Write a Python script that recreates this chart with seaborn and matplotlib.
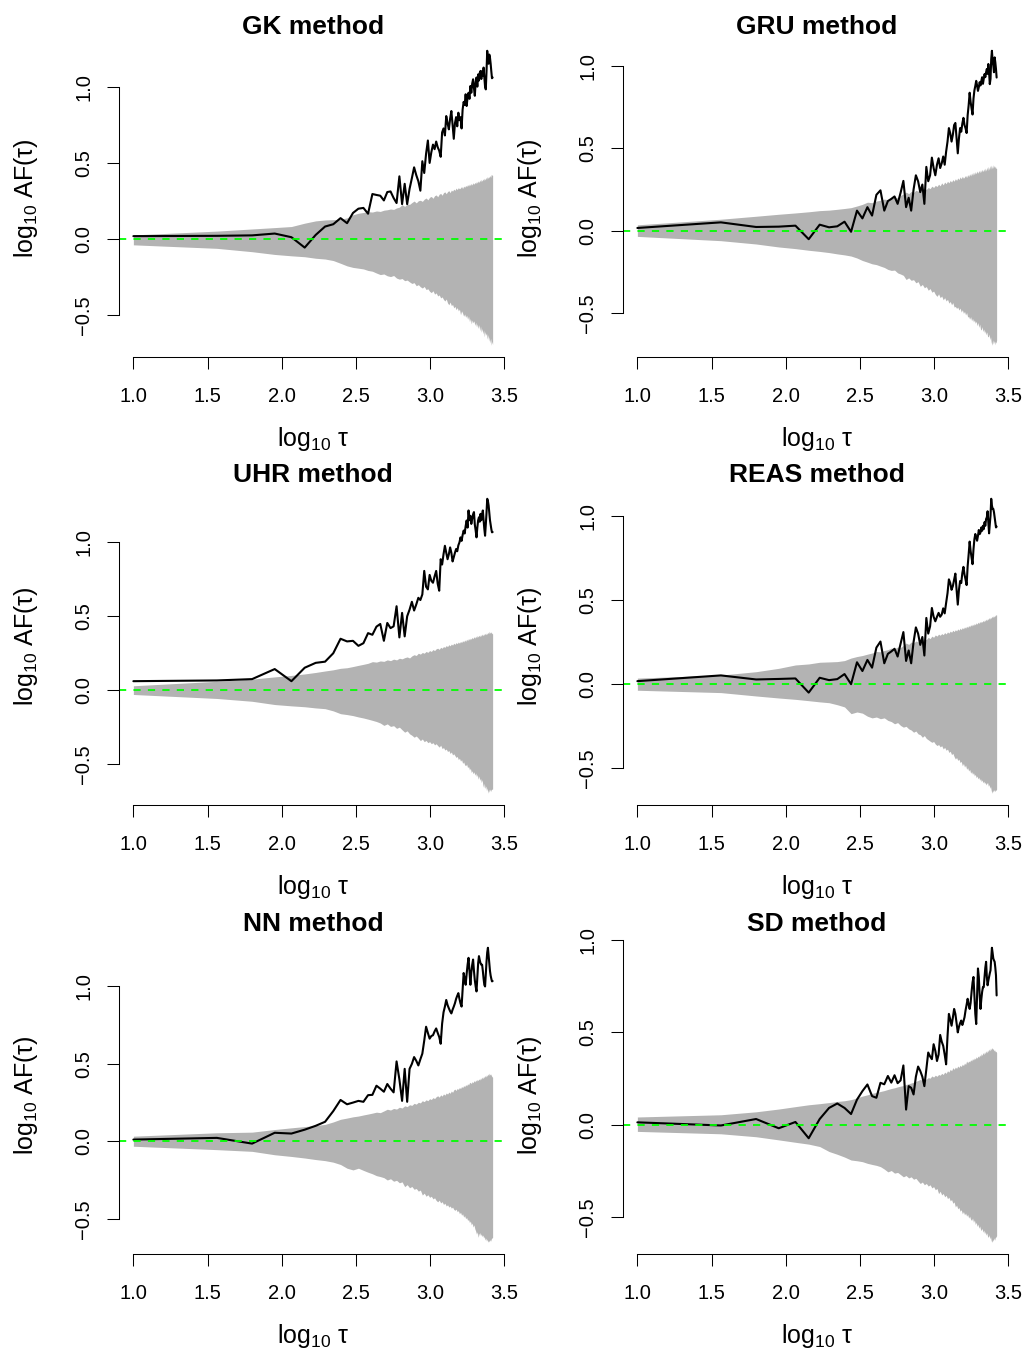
import numpy as np
import matplotlib
matplotlib.use("Agg")
import matplotlib.pyplot as plt
import seaborn as sns

# Lag grid (evenly spaced lags, shown on a log10 axis)
tau = np.linspace(10, 2640, 100)
log_tau = np.log10(tau)

methods = ["GK", "GRU", "UHR", "REAS", "NN", "SD"]

# log10 AF(tau) for each reconstruction method
gk_af = [
    0.020, 0.022, 0.025, 0.037, 0.013, -0.055, 0.028, 0.083, 0.098, 0.138,
    0.105, 0.172, 0.200, 0.205, 0.167, 0.296, 0.290, 0.285, 0.254, 0.309,
    0.313, 0.270, 0.237, 0.412, 0.230, 0.363, 0.230, 0.330, 0.400, 0.471,
    0.420, 0.380, 0.318, 0.511, 0.434, 0.560, 0.647, 0.500, 0.570, 0.620,
    0.590, 0.640, 0.603, 0.580, 0.540, 0.700, 0.726, 0.680, 0.807, 0.760,
    0.720, 0.790, 0.840, 0.750, 0.658, 0.760, 0.800, 0.740, 0.829, 0.780,
    0.800, 0.726, 0.850, 0.900, 0.880, 0.950, 0.873, 0.930, 0.960, 0.920,
    1.004, 0.960, 1.020, 1.048, 0.990, 0.940, 1.030, 1.060, 1.000, 1.080,
    1.040, 1.090, 1.103, 1.050, 1.100, 1.070, 1.125, 1.060, 1.000, 0.982,
    1.100, 1.235, 1.180, 1.150, 1.210, 1.190, 1.150, 1.100, 1.055, 1.060,
]
gru_af = [
    0.017, 0.051, 0.023, 0.025, 0.031, -0.051, 0.037, 0.021, 0.027, 0.055,
    -0.006, 0.122, 0.075, 0.143, 0.092, 0.218, 0.245, 0.122, 0.180, 0.193,
    0.208, 0.163, 0.230, 0.302, 0.143, 0.200, 0.122, 0.250, 0.336, 0.300,
    0.234, 0.280, 0.163, 0.387, 0.300, 0.336, 0.443, 0.380, 0.336, 0.400,
    0.439, 0.380, 0.408, 0.450, 0.400, 0.479, 0.540, 0.622, 0.590, 0.540,
    0.582, 0.640, 0.653, 0.560, 0.469, 0.560, 0.622, 0.600, 0.650, 0.684,
    0.640, 0.620, 0.592, 0.700, 0.760, 0.836, 0.780, 0.740, 0.704, 0.800,
    0.850, 0.877, 0.908, 0.880, 0.847, 0.870, 0.900, 0.880, 0.908, 0.930,
    0.890, 0.920, 0.949, 0.930, 0.960, 0.980, 0.950, 1.010, 0.960, 0.888,
    0.920, 1.040, 1.090, 1.030, 1.000, 0.960, 1.050, 1.020, 0.980, 0.928,
]
uhr_af = [
    0.061, 0.066, 0.075, 0.143, 0.061, 0.152, 0.185, 0.193, 0.250, 0.348,
    0.330, 0.334, 0.300, 0.318, 0.386, 0.375, 0.430, 0.448, 0.334, 0.455,
    0.420, 0.432, 0.568, 0.357, 0.523, 0.364, 0.500, 0.545, 0.598, 0.539,
    0.580, 0.625, 0.610, 0.648, 0.807, 0.700, 0.682, 0.780, 0.740, 0.727,
    0.770, 0.807, 0.720, 0.673, 0.886, 0.850, 0.920, 0.977, 0.930, 0.886,
    0.920, 0.966, 0.930, 0.871, 0.900, 0.930, 0.955, 0.940, 0.980, 1.000,
    1.034, 1.010, 1.050, 1.080, 1.060, 1.110, 1.148, 1.100, 1.216, 1.150,
    1.180, 1.125, 1.160, 1.190, 1.205, 1.120, 1.080, 1.034, 1.100, 1.150,
    1.170, 1.140, 1.193, 1.150, 1.190, 1.216, 1.150, 1.090, 1.045, 1.120,
    1.200, 1.295, 1.280, 1.250, 1.200, 1.150, 1.120, 1.090, 1.068, 1.070,
]
reas_af = [
    0.018, 0.052, 0.028, 0.031, 0.034, -0.050, 0.038, 0.024, 0.030, 0.060,
    0.000, 0.130, 0.078, 0.144, 0.098, 0.217, 0.253, 0.124, 0.180, 0.194,
    0.210, 0.164, 0.240, 0.309, 0.138, 0.200, 0.124, 0.250, 0.337, 0.300,
    0.233, 0.280, 0.170, 0.393, 0.300, 0.343, 0.452, 0.400, 0.373, 0.400,
    0.423, 0.400, 0.413, 0.450, 0.420, 0.482, 0.540, 0.622, 0.600, 0.560,
    0.582, 0.620, 0.656, 0.560, 0.472, 0.560, 0.612, 0.600, 0.660, 0.696,
    0.650, 0.620, 0.588, 0.700, 0.770, 0.846, 0.790, 0.750, 0.712, 0.800,
    0.860, 0.891, 0.870, 0.851, 0.880, 0.915, 0.890, 0.900, 0.930, 0.910,
    0.940, 0.920, 0.961, 0.940, 0.980, 0.990, 1.026, 0.960, 0.895, 0.950,
    1.000, 1.100, 1.060, 1.040, 1.040, 1.020, 0.990, 0.960, 0.930, 0.935,
]
nn_af = [
    0.011, 0.022, -0.015, 0.055, 0.050, 0.075, 0.100, 0.126, 0.195, 0.267,
    0.239, 0.250, 0.261, 0.255, 0.298, 0.300, 0.359, 0.340, 0.320, 0.370,
    0.340, 0.316, 0.516, 0.400, 0.261, 0.468, 0.255, 0.468, 0.500, 0.544,
    0.520, 0.490, 0.530, 0.566, 0.650, 0.740, 0.700, 0.663, 0.680, 0.685,
    0.710, 0.729, 0.700, 0.674, 0.630, 0.760, 0.833, 0.870, 0.913, 0.880,
    0.859, 0.840, 0.826, 0.850, 0.870, 0.892, 0.920, 0.940, 0.957, 0.920,
    0.890, 0.870, 0.980, 1.087, 1.050, 1.011, 1.080, 1.140, 1.185, 1.100,
    1.011, 1.090, 1.140, 1.174, 1.100, 1.040, 1.000, 0.968, 1.060, 1.150,
    1.196, 1.170, 1.150, 1.140, 1.141, 1.100, 1.050, 1.010, 1.000, 1.080,
    1.160, 1.220, 1.250, 1.200, 1.150, 1.100, 1.070, 1.050, 1.033, 1.035,
]
sd_af = [
    0.013, -0.004, 0.031, -0.019, 0.015, -0.073, 0.031, 0.091, 0.115, 0.091,
    0.058, 0.136, 0.182, 0.218, 0.155, 0.146, 0.227, 0.219, 0.264, 0.228,
    0.268, 0.225, 0.240, 0.321, 0.082, 0.209, 0.200, 0.164, 0.260, 0.315,
    0.291, 0.260, 0.209, 0.300, 0.391, 0.370, 0.355, 0.436, 0.400, 0.345,
    0.380, 0.486, 0.450, 0.427, 0.380, 0.327, 0.480, 0.600, 0.570, 0.536,
    0.580, 0.627, 0.600, 0.550, 0.500, 0.530, 0.550, 0.564, 0.540, 0.560,
    0.582, 0.620, 0.650, 0.682, 0.650, 0.627, 0.660, 0.720, 0.770, 0.800,
    0.700, 0.600, 0.545, 0.700, 0.846, 0.800, 0.700, 0.627, 0.680, 0.720,
    0.745, 0.745, 0.800, 0.850, 0.882, 0.800, 0.755, 0.780, 0.800, 0.820,
    0.836, 0.900, 0.958, 0.930, 0.900, 0.890, 0.882, 0.850, 0.809, 0.700,
]

# Upper / lower limits of the surrogate envelope for each method
gk_upper = [
    .028, .053, .067, .076, .083, .105, .120, .126, .128, .130,
    .140, .160, .170, .175, .180, .178, .185, .182, .190, .193,
    .198, .195, .205, .210, .226, .215, .230, .228, .240, .250,
    .238, .252, .255, .248, .262, .270, .258, .275, .280, .268,
    .285, .290, .278, .295, .300, .288, .305, .310, .298, .312,
    .318, .305, .322, .315, .328, .320, .335, .325, .338, .330,
    .336, .345, .332, .348, .340, .352, .345, .358, .348, .362,
    .352, .366, .355, .370, .360, .372, .365, .378, .368, .382,
    .372, .388, .376, .392, .380, .395, .385, .400, .388, .405,
    .392, .410, .398, .412, .402, .418, .405, .425, .420, .418,
]
gk_lower = [
    -.037, -.060, -.082, -.100, -.109, -.115, -.125, -.130, -.140, -.158,
    -.175, -.185, -.190, -.195, -.205, -.210, -.222, -.232, -.228, -.240,
    -.245, -.238, -.255, -.262, -.258, -.272, -.268, -.280, -.290, -.285,
    -.305, -.298, -.312, -.320, -.310, -.330, -.325, -.342, -.350, -.338,
    -.360, -.352, -.372, -.365, -.385, -.378, -.395, -.405, -.392, -.418,
    -.430, -.412, -.435, -.428, -.450, -.440, -.462, -.448, -.470, -.458,
    -.495, -.470, -.485, -.505, -.490, -.512, -.498, -.525, -.505, -.540,
    -.520, -.555, -.530, -.548, -.535, -.565, -.545, -.575, -.555, -.585,
    -.560, -.600, -.570, -.610, -.585, -.620, -.595, -.640, -.605, -.630,
    -.615, -.655, -.625, -.668, -.640, -.680, -.650, -.695, -.670, -.690,
]
gru_upper = [
    .036, .070, .088, .100, .108, .115, .122, .125, .130, .135,
    .140, .150, .160, .173, .170, .180, .185, .192, .188, .200,
    .205, .198, .215, .222, .234, .225, .238, .232, .245, .240,
    .252, .248, .258, .250, .262, .255, .270, .262, .275, .268,
    .282, .272, .290, .278, .295, .285, .300, .290, .305, .295,
    .310, .300, .315, .305, .320, .310, .326, .315, .330, .318,
    .326, .335, .322, .340, .328, .345, .332, .350, .336, .355,
    .340, .358, .345, .362, .348, .365, .352, .368, .355, .372,
    .358, .375, .360, .380, .362, .385, .365, .390, .368, .395,
    .372, .398, .375, .400, .378, .396, .380, .392, .378, .377,
]
gru_lower = [
    -.034, -.060, -.080, -.098, -.108, -.118, -.125, -.132, -.140, -.146,
    -.153, -.165, -.180, -.190, -.200, -.205, -.214, -.222, -.234, -.240,
    -.238, -.255, -.262, -.270, -.295, -.285, -.300, -.296, -.315, -.308,
    -.336, -.325, -.345, -.338, -.360, -.350, -.372, -.365, -.385, -.397,
    -.382, -.405, -.395, -.418, -.405, -.425, -.415, -.438, -.428, -.448,
    -.435, -.462, -.458, -.470, -.462, -.480, -.468, -.492, -.478, -.500,
    -.488, -.510, -.495, -.522, -.519, -.535, -.520, -.545, -.530, -.552,
    -.540, -.560, -.548, -.575, -.555, -.585, -.565, -.595, -.601, -.580,
    -.610, -.595, -.620, -.605, -.630, -.612, -.640, -.642, -.625, -.660,
    -.640, -.675, -.693, -.660, -.685, -.665, -.690, -.670, -.680, -.662,
]
uhr_upper = [
    .030, .060, .075, .090, .100, .110, .120, .130, .138, .148,
    .152, .160, .168, .175, .182, .193, .190, .198, .195, .205,
    .200, .210, .205, .216, .212, .220, .225, .218, .232, .240,
    .235, .250, .244, .255, .250, .262, .256, .268, .262, .275,
    .268, .280, .284, .276, .290, .284, .295, .290, .302, .295,
    .308, .300, .312, .305, .318, .310, .322, .315, .326, .318,
    .330, .322, .335, .326, .340, .330, .345, .335, .350, .340,
    .352, .345, .358, .348, .362, .352, .366, .355, .370, .360,
    .372, .362, .376, .365, .380, .368, .382, .372, .385, .375,
    .388, .378, .392, .382, .398, .385, .395, .388, .385, .380,
]
uhr_lower = [
    -.029, -.056, -.075, -.097, -.106, -.112, -.120, -.125, -.140, -.159,
    -.165, -.172, -.181, -.188, -.196, -.204, -.212, -.222, -.238, -.228,
    -.245, -.240, -.258, -.250, -.268, -.284, -.275, -.295, -.305, -.318,
    -.310, -.325, -.341, -.330, -.348, -.340, -.355, -.348, -.362, -.355,
    -.370, -.362, -.375, -.385, -.372, -.395, -.388, -.405, -.398, -.415,
    -.408, -.428, -.418, -.438, -.430, -.443, -.455, -.448, -.470, -.460,
    -.480, -.470, -.495, -.485, -.505, -.511, -.500, -.525, -.515, -.540,
    -.528, -.557, -.545, -.565, -.552, -.575, -.560, -.585, -.570, -.602,
    -.580, -.610, -.595, -.625, -.605, -.640, -.659, -.630, -.665, -.648,
    -.680, -.660, -.697, -.670, -.690, -.668, -.685, -.672, -.670, -.668,
]
reas_upper = [
    .036, .054, .074, .094, .114, .120, .130, .132, .134, .140,
    .155, .164, .170, .178, .185, .194, .192, .200, .205, .214,
    .210, .220, .218, .230, .244, .236, .250, .244, .256, .250,
    .264, .258, .270, .264, .278, .270, .285, .278, .292, .285,
    .297, .290, .300, .294, .306, .298, .310, .303, .315, .308,
    .320, .312, .323, .316, .328, .320, .332, .324, .336, .328,
    .340, .332, .344, .336, .348, .340, .353, .345, .356, .348,
    .360, .352, .364, .356, .368, .360, .372, .364, .373, .368,
    .378, .370, .382, .374, .386, .378, .390, .382, .395, .386,
    .398, .390, .403, .395, .405, .398, .410, .402, .413, .410,
]
reas_lower = [
    -.036, -.050, -.070, -.082, -.090, -.098, -.105, -.110, -.122, -.135,
    -.175, -.165, -.172, -.190, -.200, -.195, -.205, -.200, -.215, -.222,
    -.235, -.228, -.245, -.255, -.250, -.265, -.272, -.285, -.278, -.295,
    -.300, -.315, -.305, -.322, -.330, -.338, -.345, -.340, -.355, -.364,
    -.358, -.372, -.365, -.384, -.375, -.392, -.385, -.405, -.398, -.418,
    -.410, -.430, -.444, -.435, -.452, -.445, -.465, -.458, -.484, -.470,
    -.492, -.480, -.505, -.495, -.515, -.505, -.528, -.518, -.535, -.525,
    -.544, -.535, -.555, -.545, -.562, -.552, -.570, -.560, -.578, -.568,
    -.585, -.575, -.590, -.582, -.598, -.588, -.584, -.605, -.595, -.618,
    -.605, -.630, -.647, -.628, -.640, -.625, -.638, -.628, -.630, -.623,
]
nn_upper = [
    .033, .055, .059, .076, .087, .095, .102, .109, .125, .142,
    .150, .158, .163, .170, .176, .182, .188, .185, .196, .207,
    .202, .212, .208, .220, .215, .229, .224, .236, .232, .245,
    .240, .252, .248, .262, .256, .268, .262, .275, .270, .282,
    .276, .288, .294, .285, .300, .292, .306, .298, .312, .305,
    .318, .310, .325, .316, .332, .337, .328, .342, .335, .348,
    .340, .354, .346, .360, .352, .366, .358, .372, .364, .378,
    .381, .372, .386, .378, .392, .383, .396, .388, .400, .392,
    .403, .396, .410, .400, .415, .405, .420, .410, .425, .415,
    .430, .420, .435, .425, .440, .428, .435, .425, .418, .413,
]
nn_lower = [
    -.032, -.054, -.065, -.087, -.098, -.108, -.118, -.125, -.135, -.150,
    -.174, -.185, -.174, -.188, -.200, -.210, -.222, -.228, -.235, -.250,
    -.242, -.258, -.252, -.268, -.262, -.293, -.280, -.300, -.292, -.310,
    -.305, -.322, -.315, -.347, -.335, -.355, -.345, -.362, -.355, -.372,
    -.365, -.382, -.391, -.380, -.398, -.390, -.408, -.400, -.418, -.410,
    -.425, -.418, -.432, -.425, -.440, -.446, -.438, -.455, -.448, -.468,
    -.458, -.478, -.468, -.490, -.480, -.500, -.492, -.511, -.505, -.525,
    -.515, -.540, -.528, -.554, -.540, -.565, -.580, -.600, -.585, -.620,
    -.600, -.590, -.610, -.598, -.615, -.605, -.625, -.615, -.638, -.625,
    -.645, -.632, -.652, -.640, -.650, -.635, -.645, -.630, -.625, -.620,
]
sd_upper = [
    .042, .054, .070, .085, .098, .108, .114, .120, .126, .130,
    .136, .145, .155, .162, .170, .175, .180, .185, .191, .196,
    .200, .205, .209, .212, .218, .222, .226, .230, .235, .240,
    .245, .240, .250, .246, .255, .252, .264, .258, .268, .262,
    .272, .268, .278, .272, .285, .278, .292, .285, .300, .292,
    .309, .300, .312, .305, .318, .310, .322, .315, .328, .320,
    .334, .326, .345, .335, .345, .340, .352, .345, .358, .350,
    .362, .355, .368, .360, .372, .365, .378, .370, .385, .375,
    .391, .380, .395, .385, .400, .390, .405, .395, .410, .400,
    .415, .405, .418, .408, .412, .400, .405, .395, .398, .390,
]
sd_lower = [
    -.036, -.049, -.065, -.082, -.095, -.105, -.118, -.145, -.160, -.175,
    -.191, -.195, -.200, -.209, -.215, -.220, -.227, -.240, -.255, -.248,
    -.262, -.258, -.270, -.282, -.275, -.288, -.282, -.295, -.290, -.305,
    -.318, -.310, -.325, -.318, -.332, -.325, -.342, -.335, -.352, -.345,
    -.373, -.360, -.380, -.372, -.390, -.382, -.400, -.392, -.412, -.405,
    -.425, -.418, -.445, -.435, -.455, -.448, -.468, -.460, -.482, -.470,
    -.488, -.478, -.495, -.485, -.505, -.495, -.512, -.518, -.505, -.528,
    -.515, -.540, -.528, -.550, -.538, -.560, -.548, -.565, -.573, -.560,
    -.582, -.570, -.590, -.578, -.598, -.585, -.605, -.609, -.595, -.618,
    -.605, -.628, -.636, -.620, -.630, -.612, -.625, -.610, -.608, -.600,
]

series = {
    "GK": (gk_af, gk_lower, gk_upper),
    "GRU": (gru_af, gru_lower, gru_upper),
    "UHR": (uhr_af, uhr_lower, uhr_upper),
    "REAS": (reas_af, reas_lower, reas_upper),
    "NN": (nn_af, nn_lower, nn_upper),
    "SD": (sd_af, sd_lower, sd_upper),
}

x_ticks = [1.0, 1.5, 2.0, 2.5, 3.0, 3.5]
x_tick_labels = ["1.0", "1.5", "2.0", "2.5", "3.0", "3.5"]
y_ticks = [-0.5, 0.0, 0.5, 1.0]
y_tick_labels = ["\u22120.5", "0.0", "0.5", "1.0"]

sns.set_theme(style="white")
plt.rcParams["font.family"] = ["Liberation Sans", "DejaVu Sans"]
plt.rcParams["mathtext.fontset"] = "custom"
plt.rcParams["mathtext.rm"] = "Liberation Sans"
plt.rcParams["mathtext.it"] = "Liberation Sans:italic"
plt.rcParams["mathtext.bf"] = "Liberation Sans:bold"
plt.rcParams["text.color"] = "black"
plt.rcParams["axes.labelcolor"] = "black"

W, H = 1025, 1351
fig = plt.figure(figsize=(W / 100, H / 100), dpi=100)
fig.patch.set_facecolor("white")

col_left = [119, 623]
row_bottom = [357, 805, 1254]
pw, ph = 388, 318

for i, name in enumerate(methods):
    r, c = divmod(i, 2)
    ax = fig.add_axes([col_left[c] / W, 1 - row_bottom[r] / H, pw / W, ph / H])
    ax.set_facecolor("white")
    af, lo, up = (np.asarray(v) for v in series[name])

    ax.fill_between(log_tau, lo, up, color="#B3B3B3", lw=0)
    sns.lineplot(x=log_tau, y=af, ax=ax, color="black", lw=1.5,
                 estimator=None, sort=False, legend=False)
    ax.axhline(0.0, color="#00FF00", lw=1.3, ls=(0, (4, 4)))

    # limits with a 4% margin around the data
    x0, x1 = log_tau.min(), log_tau.max()
    y0 = min(lo.min(), af.min())
    y1 = max(up.max(), af.max())
    ax.set_xlim(x0 - 0.04 * (x1 - x0), x1 + 0.04 * (x1 - x0))
    ax.set_ylim(y0 - 0.04 * (y1 - y0), y1 + 0.04 * (y1 - y0))

    ax.set_xticks(x_ticks)
    ax.set_xticklabels(x_tick_labels)
    ax.set_yticks(y_ticks)
    ax.set_yticklabels(y_tick_labels, rotation=90, va="center")
    ax.tick_params(axis="both", which="major", direction="out", length=8.6,
                   width=0.75, color="black", labelcolor="black",
                   labelsize=14.5, bottom=True, left=True, top=False,
                   right=False)
    ax.tick_params(axis="x", pad=13)
    ax.tick_params(axis="y", pad=10)

    for side in ("top", "right"):
        ax.spines[side].set_visible(False)
    for side in ("left", "bottom"):
        ax.spines[side].set_color("black")
        ax.spines[side].set_linewidth(0.75)
    ax.spines["bottom"].set_bounds(x_ticks[0], x_ticks[-1])
    ax.spines["left"].set_bounds(y_ticks[0], y_ticks[-1])
    ax.grid(False)

    ax.set_title(f"{name} method", fontsize=19, fontweight="bold",
                 color="black", y=1 + 12 / ph, pad=0, va="center")
    ax.set_xlabel(r"$\mathrm{log}_{10}\ \mathrm{\tau}$", fontsize=18)
    ax.xaxis.set_label_coords(0.5, -(439 - 357) / ph)
    ax.xaxis.label.set_va("center")
    ax.set_ylabel(r"$\mathrm{log}_{10}\ \mathrm{AF(\tau)}$", fontsize=18)
    ax.yaxis.set_label_coords(-(119 - 26) / pw, 0.5)
    ax.yaxis.label.set_va("center")

fig.savefig("out.png", dpi=100, facecolor="white")
